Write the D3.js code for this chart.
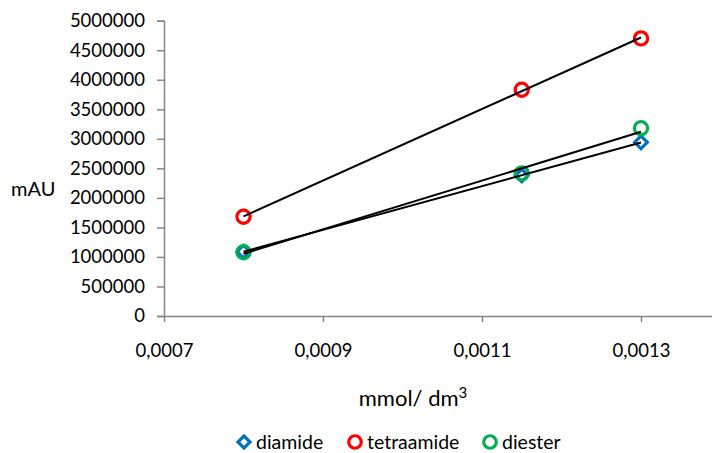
<!DOCTYPE html>
<html>
<head>
<meta charset="utf-8">
<script src="https://cdn.jsdelivr.net/npm/d3@7"></script>
<style>
  body { margin: 0; background: #fff; }
  text { font-family: Lato, "Open Sans", sans-serif; fill: #000; }
</style>
</head>
<body>
<div id="chart"></div>
<script>
'use strict';

// concentrations (mmol / dm3)
const conc = [0.0008, 0.00115, 0.0013];

const diamide = [1090000, 2380000, 2940000];
const tetraamide = [1680000, 3830000, 4700000];
const diester = [1080000, 2415000, 3178000];

const yTicks = [0, 500000, 1000000, 1500000, 2000000, 2500000, 3000000, 3500000, 4000000, 4500000, 5000000];
const xTicks = [0.0007, 0.0009, 0.0011, 0.0013];

const seriesNames = ['diamide', 'tetraamide', 'diester'];
const seriesColors = ['#0070c0', '#ff0000', '#00b050'];
const seriesShapes = ['diamond', 'circle', 'circle'];

const width = 712, height = 453;

const svg = d3.select('#chart').append('svg')
    .attr('width', width)
    .attr('height', height);

const x = d3.scaleLinear().domain([0.0007, 0.0013]).range([164, 641]);
const y = d3.scaleLinear().domain([0, 5000000]).range([316, 20.7]);

const fmtX = function (d) { return d3.format('.4f')(d).replace('.', ','); };

// y axis
const yAxis = svg.append('g')
    .attr('transform', 'translate(' + x(0.0007) + ',0)')
    .call(d3.axisLeft(y).tickValues(yTicks).tickSize(7).tickPadding(12).tickFormat(d3.format('d')));

// x axis
const xAxis = svg.append('g')
    .attr('transform', 'translate(0,' + y(0) + ')')
    .call(d3.axisBottom(x).tickValues(xTicks).tickSize(6).tickPadding(22).tickFormat(fmtX));

xAxis.select('.domain').attr('d', 'M' + x(0.0007) + ',0.5H' + width);

[xAxis, yAxis].forEach(function (ax) {
    ax.select('.domain').style('stroke', '#868686').style('stroke-width', 1.5);
    ax.selectAll('.tick line').style('stroke', '#868686').style('stroke-width', 1.5);
    ax.selectAll('.tick text').style('font-size', '18.5px').style('font-family', 'Lato, sans-serif').style('fill', '#000');
});

// markers
const allSeries = [diamide, tetraamide, diester];

function drawMarker(g, shape, color, cx, cy, s) {
    if (shape === 'diamond') {
        g.append('path')
            .attr('d', d3.symbol().type(d3.symbolSquare).size(80 * s * s)())
            .attr('transform', 'translate(' + cx + ',' + cy + ') rotate(45)')
            .style('fill', 'none')
            .style('stroke', color)
            .style('stroke-width', 3.2);
    } else {
        g.append('circle')
            .attr('cx', cx)
            .attr('cy', cy)
            .attr('r', 6.6 * s)
            .style('fill', 'none')
            .style('stroke', color)
            .style('stroke-width', 3.2);
    }
}

const markers = svg.append('g');
allSeries.forEach(function (vals, si) {
    vals.forEach(function (v, i) {
        drawMarker(markers, seriesShapes[si], seriesColors[si], x(conc[i]), y(v), 1);
    });
});

// linear trendlines (least squares)
function fit(xs, ys) {
    let mx = d3.mean(xs), my = d3.mean(ys);
    let sxy = d3.sum(xs, function (d, i) { return (d - mx) * (ys[i] - my); });
    let sxx = d3.sum(xs, function (d) { return (d - mx) * (d - mx); });
    let k = sxy / sxx;
    return function (t) { return my + k * (t - mx); };
}

const trends = svg.append('g');
allSeries.forEach(function (vals) {
    let f = fit(conc, vals);
    let ext = d3.extent(conc);
    trends.append('line')
        .attr('x1', x(ext[0]))
        .attr('y1', y(f(ext[0])))
        .attr('x2', x(ext[1]))
        .attr('y2', y(f(ext[1])))
        .style('stroke', '#000')
        .style('stroke-width', 2);
});

// axis titles
svg.append('text')
    .text('mAU')
    .attr('x', 11)
    .attr('y', 196)
    .style('font-size', '20px');

const xt = svg.append('text')
    .attr('x', 413)
    .attr('y', 406)
    .style('text-anchor', 'middle')
    .style('font-size', '22px');
xt.append('tspan').text('mmol/ dm');
xt.append('tspan').text('3').attr('dy', -8).style('font-size', '15px');

// legend
const legendX = [244, 355, 490];
const legend = svg.append('g');
seriesNames.forEach(function (name, i) {
    drawMarker(legend, seriesShapes[i], seriesColors[i], legendX[i], 442, 0.95);
    legend.append('text')
        .text(name)
        .attr('x', legendX[i] + 12)
        .attr('y', 449)
        .style('font-size', '19.5px');
});
</script>
</body>
</html>
